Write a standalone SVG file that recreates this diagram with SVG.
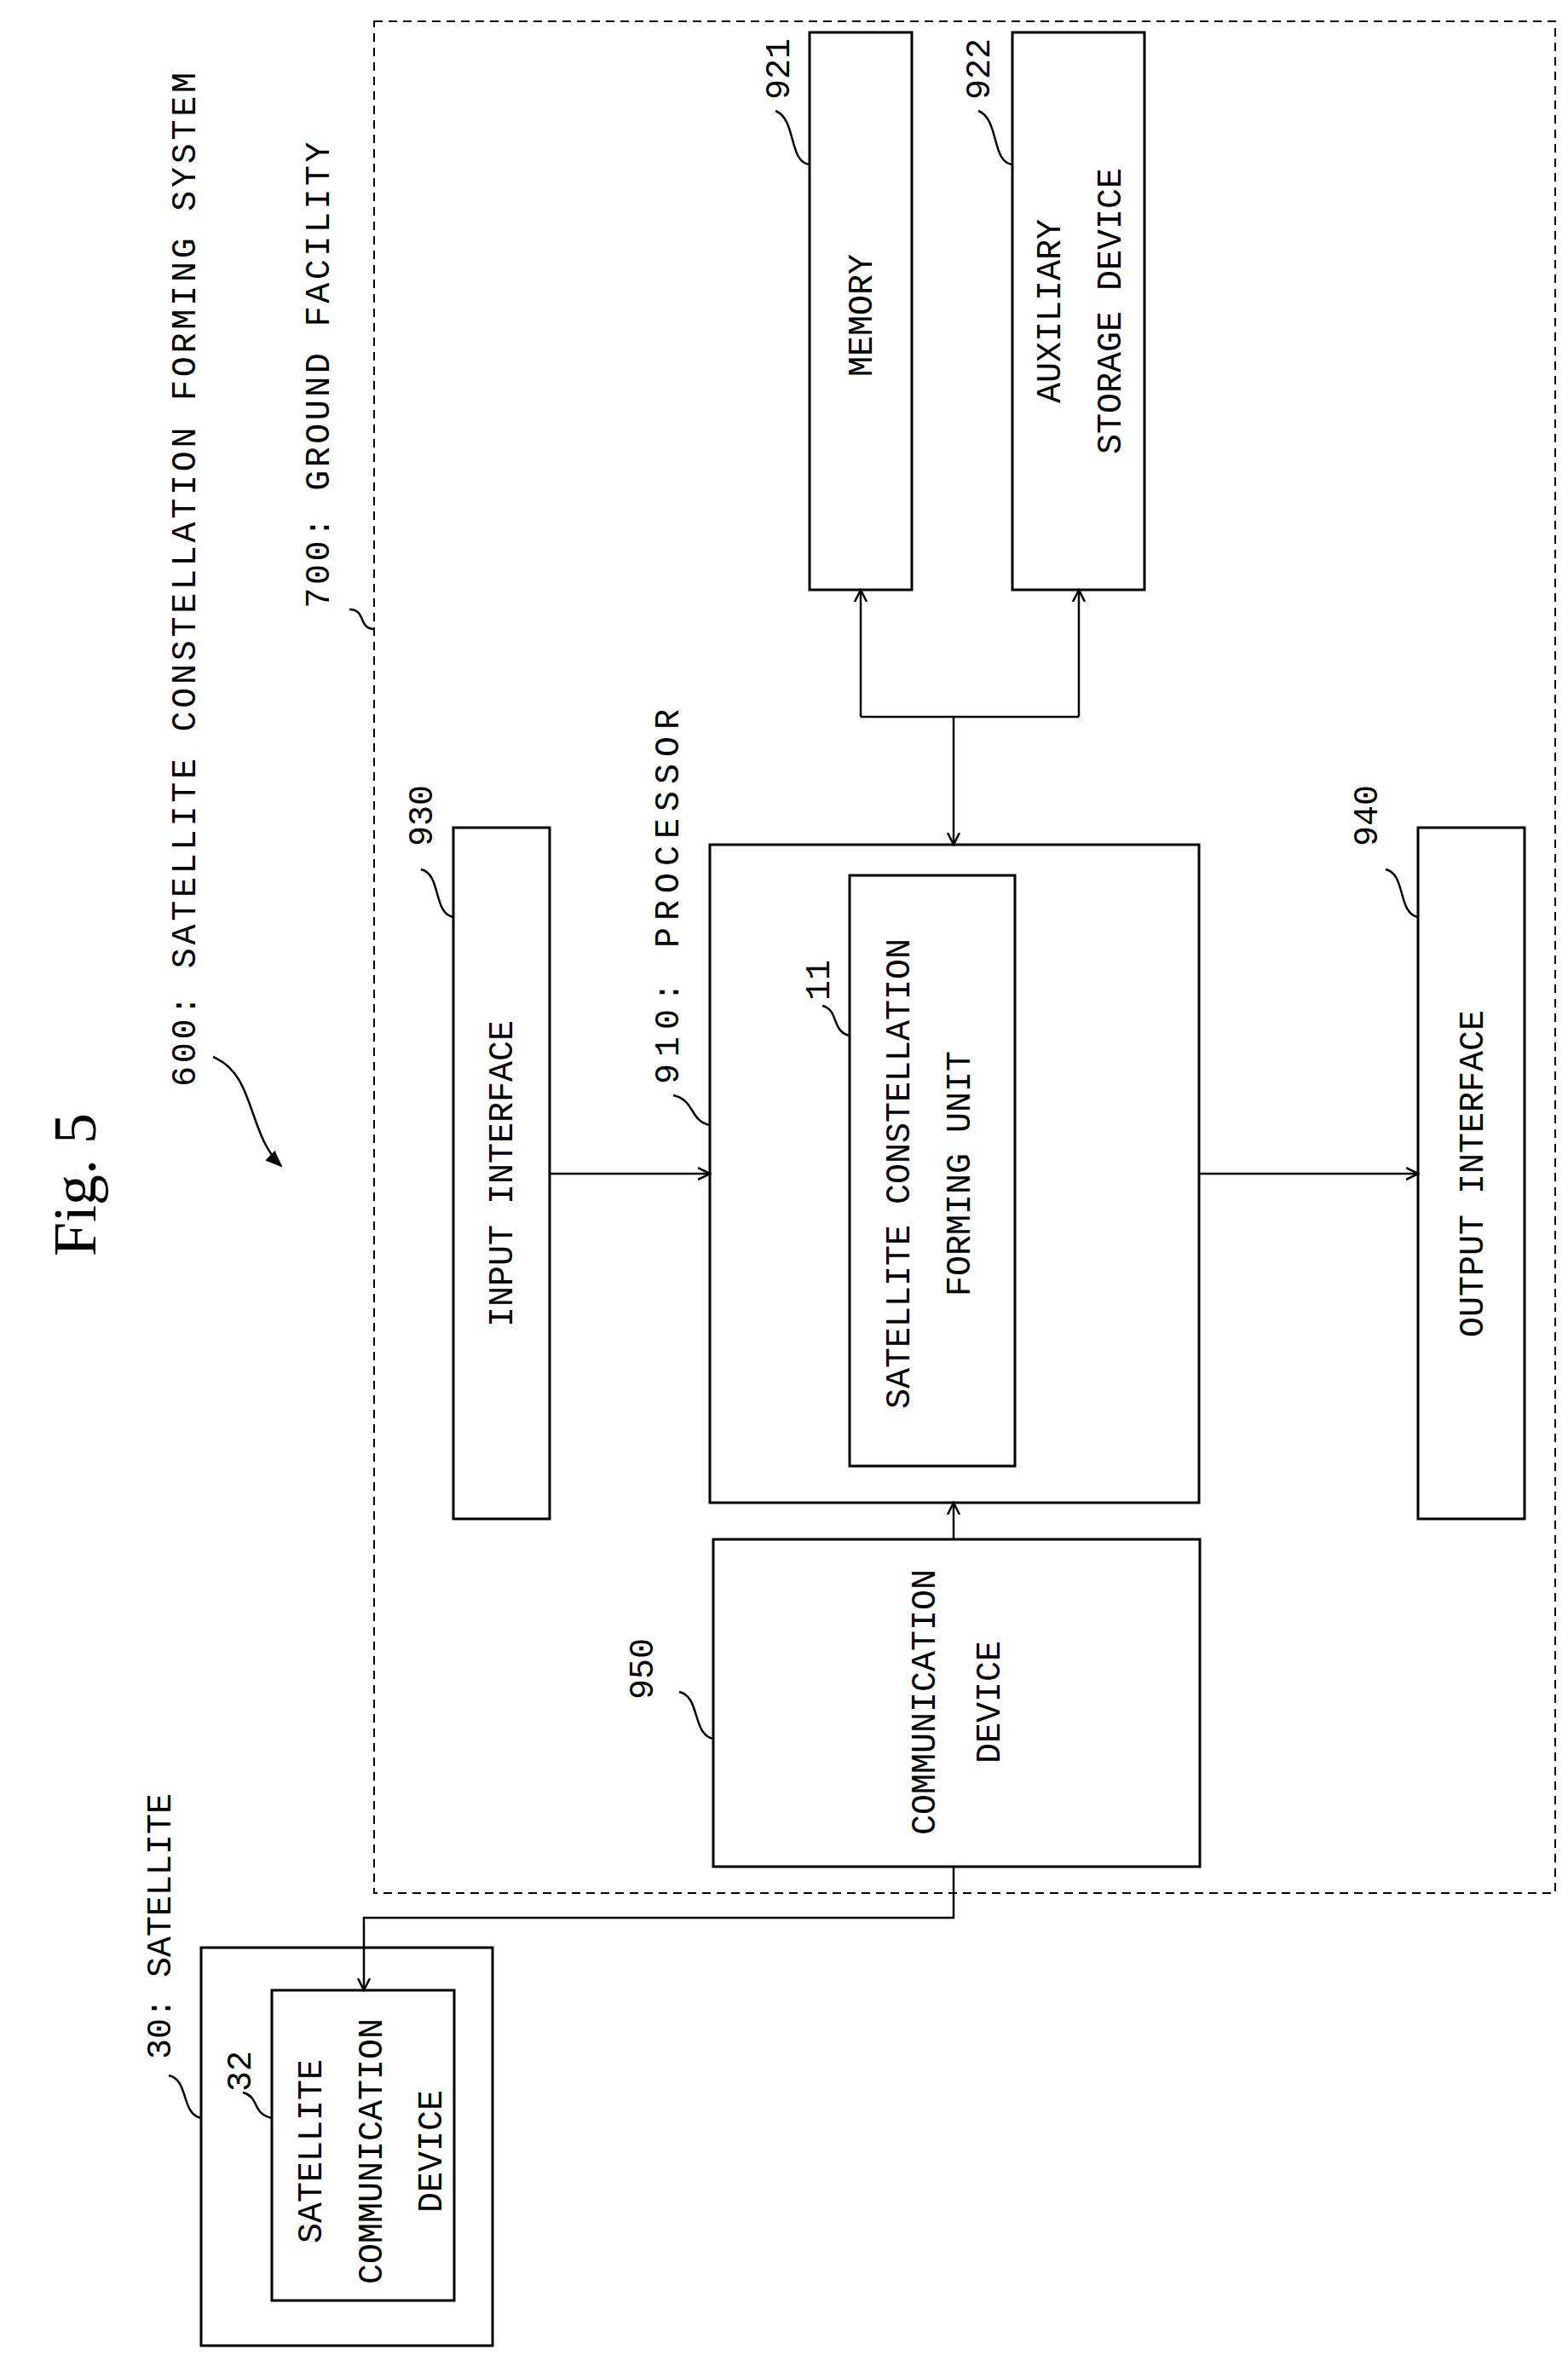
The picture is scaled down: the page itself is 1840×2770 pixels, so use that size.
<svg xmlns="http://www.w3.org/2000/svg" width="1840" height="2770" viewBox="0 0 1840 2770">
<style>
.b{fill:#fff;stroke:#000;stroke-width:3}
.l{fill:none;stroke:#000;stroke-width:2.5}
.t{font-family:"Liberation Mono",monospace;font-size:40px;fill:#000;text-anchor:middle;dominant-baseline:central}
</style>
<defs>
<marker id="a" markerWidth="16" markerHeight="16" refX="14" refY="8" orient="auto" markerUnits="userSpaceOnUse"><path d="M0,1 L14,8 L0,15" fill="none" stroke="#000" stroke-width="2.5"/></marker>
<marker id="f" markerWidth="22" markerHeight="22" refX="18" refY="11" orient="auto" markerUnits="userSpaceOnUse"><path d="M0,3 L20,11 L0,19 Z" fill="#000"/></marker>
</defs>
<rect width="1840" height="2770" fill="#fff"/>
<g id="titles">
<text class="t" style="font-family:'Liberation Serif',serif;font-size:72px" transform="translate(88,1390) rotate(-90)">Fig. 5</text>
<text class="t" transform="translate(218,680) rotate(-90)" textLength="1190" lengthAdjust="spacing">600: SATELLITE CONSTELLATION FORMING SYSTEM</text>
<path class="l" d="M250,1240 C300,1260 290,1330 330,1368" marker-end="url(#f)"/>
</g>
<g id="ground">
<rect x="439" y="25" width="1386" height="2196" fill="none" stroke="#000" stroke-width="2" stroke-dasharray="10,7"/>
<text class="t" transform="translate(375,440) rotate(-90)" textLength="547" lengthAdjust="spacing">700: GROUND FACILITY</text>
<path class="l" d="M439,738 C420,738 430,715 410,715"/>
</g>
<g id="memory">
<rect class="b" x="950" y="38" width="120" height="654"/>
<text class="t" transform="translate(1012,370) rotate(-90)">MEMORY</text>
<text class="t" transform="translate(915,81) rotate(-90)">921</text>
<path class="l" d="M950,193 C925,190 935,140 910,130"/>
</g>
<g id="aux">
<rect class="b" x="1188" y="38" width="155" height="654"/>
<text class="t" transform="translate(1233,365) rotate(-90)">AUXILIARY</text>
<text class="t" transform="translate(1304,365) rotate(-90)">STORAGE DEVICE</text>
<text class="t" transform="translate(1150,81) rotate(-90)">922</text>
<path class="l" d="M1188,193 C1163,190 1173,140 1148,130"/>
</g>
<g id="processor">
<rect class="b" x="833" y="991" width="574" height="772"/>
<text class="t" transform="translate(785,1052) rotate(-90)" textLength="440" lengthAdjust="spacing">910: PROCESSOR</text>
<path class="l" d="M833,1320 C810,1316 815,1290 790,1285"/>
</g>
<g id="unit11">
<rect class="b" x="997" y="1027" width="194" height="693"/>
<text class="t" transform="translate(1056,1377) rotate(-90)">SATELLITE CONSTELLATION</text>
<text class="t" transform="translate(1127,1377) rotate(-90)">FORMING UNIT</text>
<text class="t" transform="translate(962,1150) rotate(-90)">11</text>
<path class="l" d="M997,1215 C975,1210 985,1185 965,1180"/>
</g>
<g id="input">
<rect class="b" x="532" y="971" width="113" height="811"/>
<text class="t" transform="translate(590,1377) rotate(-90)">INPUT INTERFACE</text>
<text class="t" transform="translate(496,957) rotate(-90)">930</text>
<path class="l" d="M532,1076 C508,1072 518,1025 494,1020"/>
</g>
<g id="output">
<rect class="b" x="1664" y="971" width="125" height="811"/>
<text class="t" transform="translate(1729,1377) rotate(-90)">OUTPUT INTERFACE</text>
<text class="t" transform="translate(1605,957) rotate(-90)">940</text>
<path class="l" d="M1664,1076 C1640,1072 1650,1025 1626,1020"/>
</g>
<g id="comm">
<rect class="b" x="837" y="1806" width="571" height="384"/>
<text class="t" transform="translate(1086,1997) rotate(-90)">COMMUNICATION</text>
<text class="t" transform="translate(1162,1997) rotate(-90)">DEVICE</text>
<text class="t" transform="translate(755,1958) rotate(-90)">950</text>
<path class="l" d="M837,2040 C812,2035 822,1990 797,1985"/>
</g>
<g id="satellite">
<rect class="b" x="236" y="2285" width="342" height="467"/>
<text class="t" transform="translate(189,2260) rotate(-90)">30: SATELLITE</text>
<path class="l" d="M236,2485 C212,2480 222,2440 198,2435"/>
</g>
<g id="satcomm">
<rect class="b" x="319" y="2335" width="214" height="364"/>
<text class="t" transform="translate(366,2524) rotate(-90)">SATELLITE</text>
<text class="t" transform="translate(437,2524) rotate(-90)">COMMUNICATION</text>
<text class="t" transform="translate(507,2524) rotate(-90)">DEVICE</text>
<text class="t" transform="translate(283,2430) rotate(-90)">32</text>
<path class="l" d="M319,2485 C295,2480 305,2460 285,2455"/>
</g>
<g id="connectors">
<path class="l" d="M1119,841 V991" marker-end="url(#a)"/>
<path class="l" d="M1010,841 H1266"/>
<path class="l" d="M1010,841 V692" marker-end="url(#a)"/>
<path class="l" d="M1266,841 V692" marker-end="url(#a)"/>
<path class="l" d="M645,1377 H833" marker-end="url(#a)"/>
<path class="l" d="M1407,1377 H1664" marker-end="url(#a)"/>
<path class="l" d="M1119,1806 V1763" marker-end="url(#a)"/>
<path class="l" d="M1119,2190 V2250 H427 V2335" marker-end="url(#a)"/>
</g>
</svg>
